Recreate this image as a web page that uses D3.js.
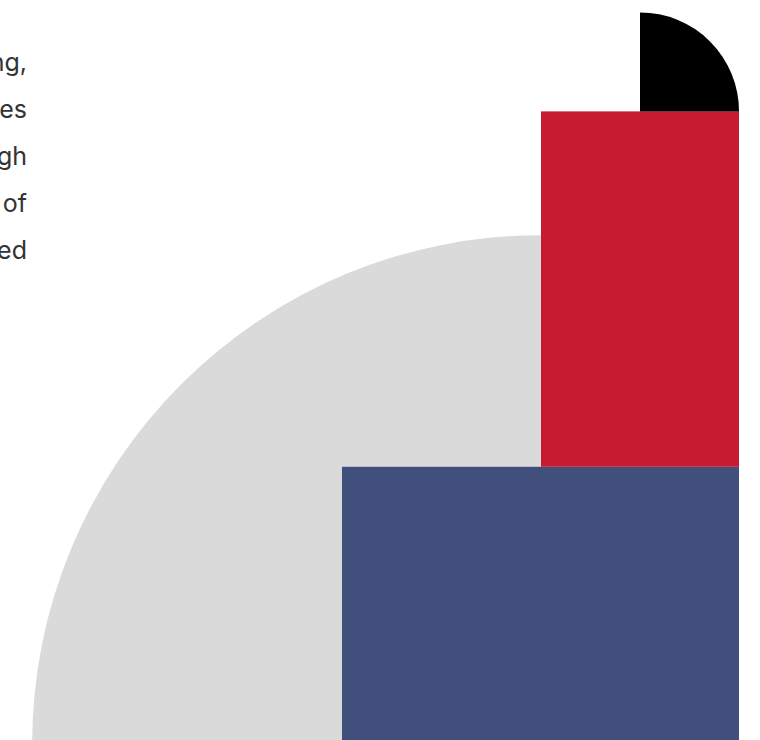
<!DOCTYPE html>
<html>
<head>
<meta charset="utf-8">
<script src="https://cdn.jsdelivr.net/npm/d3@7"></script>
<style>
  html, body { margin: 0; padding: 0; background: #ffffff; overflow: hidden; }
  svg { display: block; }
</style>
</head>
<body>
<script>
// ---- data (in abstract units) ----
const textLines = ["ng,", "es", "gh", "of", "ed"];
const blockNames = ["Blue", "Red"];
const blockWidths = [401, 200];
const blockHeights = [280, 359];
const blockColors = ["#404f7c", "#c71b32"];
const arcNames = ["Gray", "Black"];
const arcRadii = [514, 100];
const arcColors = ["#dadada", "#000000"];

const W = 760, H = 740;
const rightEdge = 739;   // shared right edge of the stack
const baseline = 744;    // ground line (just below viewport)

const unit = d3.scaleLinear().domain([0, 100]).range([0, 99]);

const svg = d3.select("body").append("svg")
  .attr("width", W).attr("height", H);

// stack geometry
const blueW = unit(blockWidths[0]), blueH = unit(blockHeights[0]);
const redW = unit(blockWidths[1]), redH = unit(blockHeights[1]);
const blueTop = baseline - blueH;
const redTop = blueTop - redH;
const redLeft = rightEdge - redW;
const grayR = unit(arcRadii[0]);
const blackR = unit(arcRadii[1]);

const arc = d3.arc().innerRadius(0);

// gray quarter circle (upper-left quadrant), centred on red block's left edge at ground
svg.append("path")
  .attr("transform", `translate(${redLeft},${baseline})`)
  .attr("d", arc({outerRadius: grayR, startAngle: -Math.PI / 2, endAngle: 0}))
  .attr("fill", arcColors[0]);

// blocks
const blocks = [
  {name: blockNames[0], x: rightEdge - blueW, y: blueTop, w: blueW, h: blueH + 10, c: blockColors[0]},
  {name: blockNames[1], x: redLeft, y: redTop, w: redW, h: redH, c: blockColors[1]}
];
svg.selectAll("rect.block").data(blocks).join("rect")
  .attr("class", "block")
  .attr("x", d => d.x).attr("y", d => d.y)
  .attr("width", d => d.w).attr("height", d => d.h)
  .attr("fill", d => d.c);

// black quarter circle (upper-right quadrant) on top of red block
svg.append("path")
  .attr("transform", `translate(${rightEdge - blackR},${redTop})`)
  .attr("d", arc({outerRadius: blackR, startAngle: 0, endAngle: Math.PI / 2}))
  .attr("fill", arcColors[1]);

// clipped text on the left
const lineY = d3.scaleLinear().domain([0, 1]).range([71, 118]);
svg.selectAll("text.line").data(textLines).join("text")
  .attr("class", "line")
  .attr("x", 27)
  .attr("y", (d, i) => lineY(i))
  .attr("text-anchor", "end")
  .attr("font-family", "Inter, 'Noto Sans', sans-serif")
  .attr("font-size", 25)
  .attr("fill", "#333333")
  .text(d => d);
</script>
</body>
</html>
